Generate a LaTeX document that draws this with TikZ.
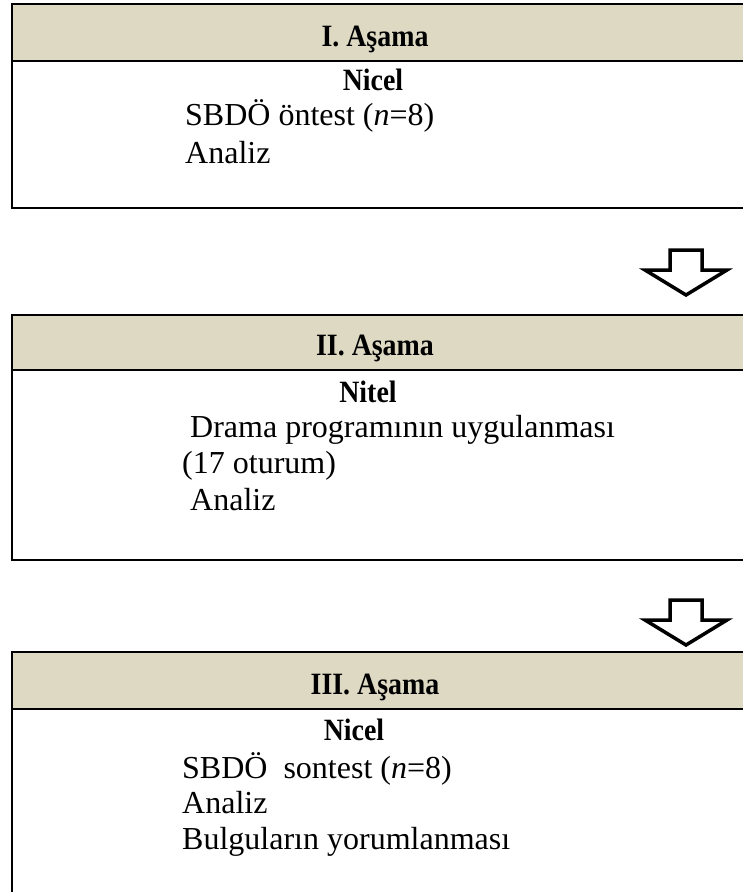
\documentclass[tikz,border=0pt]{standalone}
\usepackage{fontspec}
\setmainfont{Liberation Serif}
\newfontfamily\hdrfont{Liberation Serif}[FakeStretch=0.9]
\definecolor{hdr}{HTML}{DDD9C3}
\begin{document}
\begin{tikzpicture}[x=1pt,y=-1pt,
  hdrbox/.style={draw=black, line width=2pt, fill=hdr, minimum width=745pt, anchor=north west, inner sep=0pt, outer sep=0pt},
  bodybox/.style={draw=black, line width=2pt, minimum width=745pt, anchor=north west, inner sep=0pt, outer sep=0pt},
  title/.style={font=\hdrfont\fontsize{31}{37}\selectfont\bfseries, anchor=base, inner sep=0pt},
  bodytxt/.style={font=\fontsize{32}{38}\selectfont, anchor=base west, inner sep=0pt},
  blockarrow/.style={draw=black, line width=3.5pt, fill=white, line join=miter}]
\useasboundingbox (0,0) rectangle (743,892);
% Box I
\node[bodybox, minimum height=204pt] (b1) at (12,4) {};
\node[hdrbox, minimum height=57pt] (h1) at (12,4) {};
\node[title] (t1) at (375,46) {I. Aşama};
\node[title] (n1) at (373,90) {Nicel};
\node[bodytxt] (l11) at (185,125) {SBDÖ öntest (\textit{n}=8)};
\node[bodytxt] (l12) at (185,163) {Analiz};
% Arrow 1
\coordinate (a1) at (686,250);
\draw[blockarrow, shift={(a1)}] (-16,0) -- (16,0) -- (16,20) -- (41,20) -- (0,45) -- (-41,20) -- (-16,20) -- cycle;
% Box II
\node[bodybox, minimum height=245pt] (b2) at (12,315) {};
\node[hdrbox, minimum height=55pt] (h2) at (12,315) {};
\node[title] (t2) at (375,355) {II. Aşama};
\node[title] (n2) at (368,402) {Nitel};
\node[bodytxt] (l21) at (190,437) {Drama programının uygulanması};
\node[bodytxt] (l22) at (182,473) {(17 oturum)};
\node[bodytxt] (l23) at (190,510) {Analiz};
% Arrow 2
\coordinate (a2) at (686,600);
\draw[blockarrow, shift={(a2)}] (-16,0) -- (16,0) -- (16,20) -- (41,20) -- (0,45) -- (-41,20) -- (-16,20) -- cycle;
% Box III
\node[bodybox, minimum height=260pt] (b3) at (12,652) {};
\node[hdrbox, minimum height=57pt] (h3) at (12,652) {};
\node[title] (t3) at (375,694) {III. Aşama};
\node[title] (n3) at (354,740) {Nicel};
\node[bodytxt] (l31) at (182,778) {SBDÖ\ \ sontest (\textit{n}=8)};
\node[bodytxt] (l32) at (182,813) {Analiz};
\node[bodytxt] (l33) at (182,849) {Bulguların yorumlanması};
\end{tikzpicture}
\end{document}
